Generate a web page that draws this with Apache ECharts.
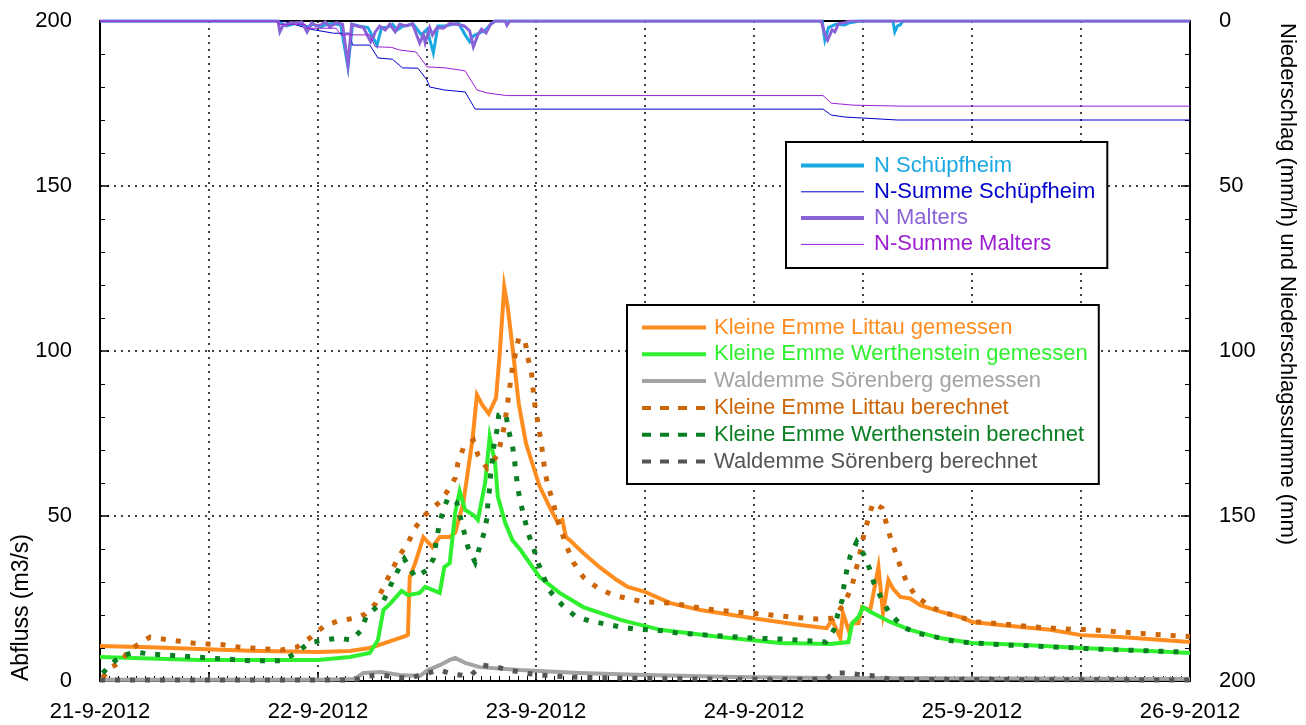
<!DOCTYPE html>
<html><head><meta charset="utf-8">
<script src="https://cdn.jsdelivr.net/npm/echarts@6/dist/echarts.min.js"></script>
<style>html,body{margin:0;padding:0;background:#fff}#c{width:1306px;height:725px}</style>
</head><body><div id="c"></div>
<script>
// x values are hours since 21-9-2012 00:00
const dayLabels = ['21-9-2012','22-9-2012','23-9-2012','24-9-2012','25-9-2012','26-9-2012'];
const leftTicks = [0, 50, 100, 150, 200];

// Abfluss (m3/s)
const littauGemessen = [[0,10.6],[5.5,10.2],[11,9.7],[16.5,9.2],[24,8.8],[27.5,9.1],[29.7,10],[31.9,12],[33.6,13.6],[33.9,14],[34.1,31.5],[34.7,35.7],[35.6,43.6],[36.6,40.6],[37.4,43.6],[38.5,43.6],[39.1,45],[40,54],[41,73],[41.5,86.7],[42.1,83.6],[42.8,81],[43.6,85.8],[44,99],[44.5,119.4],[44.9,113],[45.5,99],[46.1,84],[46.9,72],[47.7,65],[48.4,59],[49.5,52.7],[50.4,48],[50.9,48.8],[51.3,43.6],[51.7,42.7],[53.2,38.8],[55,34.5],[56.9,30.6],[58.1,28.5],[60,27],[62.8,23.6],[66.1,21.5],[71.9,19],[77.1,17],[80,16],[80.6,18.5],[81.5,13],[81.8,20.6],[82.4,15.5],[82.8,17.5],[83.5,17.5],[83.9,22.4],[84.8,21.5],[85.7,34.5],[86.2,20.6],[86.8,30.6],[87.3,28],[88.1,25.5],[89.2,25],[90.3,23],[92.5,21],[94.7,19.4],[96,17.9],[99.1,17],[104.6,15.5],[108,13.9],[112.3,13.3],[120,11.8]];
const werthensteinGemessen = [[0,7.3],[11,6.4],[24,6.4],[27.5,7.3],[29.7,8.5],[30.6,12.4],[31.2,21.5],[32,23.6],[33.2,27.3],[33.9,26],[35.2,26.7],[35.8,28.5],[37.4,26.7],[37.9,34.5],[38.5,35.7],[39.1,51],[39.6,57.5],[40.2,51.8],[41.1,50.3],[41.6,48.8],[42.4,60],[42.9,74],[43.5,66],[43.8,55.8],[44.6,48],[45.4,42.7],[46.3,39.7],[48.4,31.5],[50.6,26.7],[53.2,22.4],[57.3,18.5],[61.7,15.5],[68.3,13.3],[74.9,11.5],[80.4,11.2],[82.4,11.8],[82.8,17.5],[83.5,19.4],[84,22.4],[84.8,21],[87,17.9],[89.2,15.5],[92.5,13],[96,11.5],[101.3,11],[108,10],[115.6,9.1],[120,8.5]];
const soerenbergGemessen = [[0,0.4],[24,0.4],[28,0.6],[29,2.4],[30.9,2.7],[33,1.8],[35.2,1.5],[36.1,3.3],[37.4,4.8],[38.5,6.4],[39.1,7],[40.2,5.5],[41.8,4.2],[46.2,3.3],[50.6,2.7],[52.8,2.4],[60,1.8],[70,1.2],[80,0.9],[90,0.8],[120,0.6]];
const littauBerechnet = [[0.3,1],[1.1,4],[2.4,5.8],[3,8.8],[4.1,10.9],[5.5,13.3],[6.9,12.7],[8.6,12.1],[10.2,11.5],[11.9,11.2],[13.5,11],[15.2,10.3],[16.7,10],[18.4,9.7],[20,9.4],[21.7,10.3],[23.1,13],[24.7,16.7],[26.2,18.2],[27.9,19],[29.2,20.3],[30.3,23.3],[31.7,31.2],[32.3,34.5],[33,38.2],[33.9,41.8],[34.7,46.4],[35.5,49.4],[36.3,51.8],[37.4,54.2],[38.2,57.3],[39.1,61.5],[39.4,66],[40,70.6],[41.1,73],[41.6,68.5],[42.6,64.5],[43.8,68.5],[44.5,77],[45,86.7],[45.4,95],[45.8,100],[46.1,104],[46.8,103],[47.1,98],[47.5,93.6],[47.8,85],[48.1,80],[48.6,71.8],[49,63],[49.4,58.5],[49.9,54],[50.3,49.4],[51.4,40.6],[52.1,36],[53.2,31.5],[54.8,28.2],[56.5,26],[58.1,25],[59.8,24],[63,23.6],[66.3,22],[69.6,21],[72.7,20.3],[76,19.4],[79,18.8],[80.7,19],[81.8,23],[82.7,27.9],[83.5,36.7],[84.2,45.5],[85.1,54],[86.1,52.4],[87,43.6],[88.1,34.8],[88.8,30],[89.8,25.8],[91.5,22.4],[93.1,20.6],[94.7,19.4],[96.3,17.9],[99.5,17.3],[102.7,16.4],[106,15.8],[109.3,15.5],[112.6,14.8],[115.8,14.2],[119.1,13.6],[120,13.5]];
const werthensteinBerechnet = [[0.3,2.4],[1.1,4.8],[2.3,7.6],[3.9,8.8],[5.4,8.2],[7,7.9],[8.7,7.6],[10.3,7.3],[11.9,7],[13.5,6.7],[15.2,6.4],[16.7,6.1],[20,6.1],[21.6,8.5],[23,11.5],[24.6,12.4],[26.3,13],[27.7,12.4],[28.7,15.2],[29.3,19.4],[30.2,21.8],[31.2,24.2],[32,29],[32.7,33],[33.5,37],[34.7,31.5],[36,33.6],[36.7,37],[37.3,46.7],[37.7,51],[38.3,55.5],[39.3,54],[39.7,49.4],[40.1,45],[40.5,40.6],[41.3,36],[41.8,40.6],[42.3,45],[42.6,49.4],[42.7,54],[42.9,58.5],[43,62.7],[43.4,72],[43.7,76],[43.9,80.6],[44.7,81],[44.9,76.7],[45.4,71.5],[45.6,67.6],[45.8,63],[46,58.5],[46.3,54],[46.7,49.7],[47.1,45],[47.7,40.6],[48.2,36],[48.8,31.8],[49.5,27.3],[50.9,23],[52.3,19.7],[53.9,18.2],[55.6,17.3],[57.3,16.4],[58.7,15.8],[60.3,15.5],[62,15.2],[63.6,14.5],[65.3,14.2],[66.9,13.9],[68.6,13.6],[71.9,13],[75.2,12.7],[78.3,12.1],[79.9,11.8],[80.8,15.5],[81.2,20],[81.7,24.5],[81.9,28.8],[82.2,33.3],[82.6,37.9],[83.3,42.1],[84.1,38.2],[84.7,34.2],[85.2,29.7],[86,25.2],[86.9,20.6],[88.4,16.4],[89.9,14.5],[91.6,13.6],[93.3,12.4],[94.9,11.8],[96.6,11.5],[98.1,11.2],[99.7,10.9],[103,10.6],[104.6,10.3],[107.9,10],[109.3,9.7],[112.6,9.4],[115.9,9.1],[119.1,8.8]];
const soerenbergBerechnet = [[0,0.3],[28,0.3],[29.5,1.5],[31,1.8],[32.5,1.2],[34,0.8],[36,2.4],[37.4,3.3],[38.9,2],[40.7,1.5],[42.1,4.8],[43.7,4.2],[45.1,3.3],[46.8,2.4],[48.4,1.8],[52,1.2],[58,0.8],[70,0.5],[80,0.5],[80.7,2.4],[82.4,2.4],[84,1.8],[85.5,1.5],[87,0.5],[120,0.3]];

// Niederschlag (mm/h) und Niederschlagssumme (mm)
const nSchuepfheim = [[0,0],[19.5,0],[20,0.8],[20.5,1.5],[21.2,1],[21.6,0.5],[22.8,1.8],[23.5,1],[24.3,1.8],[25,1],[25.5,0.8],[26.5,1.2],[27.3,14],[27.8,1],[28.5,1.5],[29.5,2],[30.5,7.3],[31,2],[31.6,2],[32.2,1],[32.7,2.7],[33.4,1.5],[34.5,1],[35.4,4.2],[36,2.5],[36.7,9.7],[37.2,1.5],[38,1.5],[38.8,1],[39.5,0.8],[40.2,4.2],[40.7,6.3],[41.1,4.5],[41.8,3.6],[42.4,2.8],[43,1],[43.5,0],[79.5,0],[79.8,5.8],[80.2,2],[80.6,1.5],[81,1],[82,1.2],[82.5,0.5],[83.1,0.3],[83.5,0],[87.3,0],[87.5,3.3],[87.8,1.5],[88.1,1.2],[88.4,0],[120,0]];
const nSummeSchuepfheim = [[0,0],[20.2,0],[20.5,0.3],[23.2,2.5],[25.7,3.7],[27.5,3.7],[27.8,7.3],[29.7,7.3],[30.6,11.2],[32.2,11.6],[33.3,14.2],[35,14.3],[36,17.9],[36.3,20],[37.9,20.9],[40.2,21.5],[41.3,26.7],[79.6,26.7],[80.5,28.5],[82,29.1],[87.8,30],[120,30]];
const nMalters = [[0,0],[19.6,0],[19.8,3.3],[20.2,1],[20.5,1.3],[21,0.5],[21.6,0.7],[22.2,0.3],[22.8,3.3],[23.3,0.5],[23.8,1.5],[24.3,1.2],[24.8,0.3],[25.3,1.8],[26,0.5],[26.7,1],[27.3,13.3],[27.7,1],[28.3,1.5],[29,2],[29.8,6.3],[30.1,4.8],[30.3,3.3],[30.8,1.5],[31.4,2.7],[31.9,1],[32.5,3.3],[33,1],[33.7,1.5],[34.4,0.8],[35,5.2],[35.2,6.7],[35.6,4.2],[35.8,6.6],[36.3,2],[36.6,4.2],[37.1,2],[37.8,2.2],[38.5,0.8],[39.3,1],[40.1,1.5],[40.7,3],[41.1,7.8],[41.6,4.2],[42,2.5],[42.5,3.6],[43,1],[43.5,0],[44.6,0],[44.8,1.3],[45.1,0],[79.4,0],[79.8,4],[80.1,5.8],[80.6,2.7],[80.9,3.3],[81.3,0.8],[82,0.5],[82.5,0],[120,0]];
const nSummeMalters = [[0,0],[19.5,0],[19.7,1],[22.6,1],[22.8,2.2],[26,2.2],[26.5,4.2],[29.7,4.2],[30.3,7.8],[32.1,8],[33,8.8],[34.8,9.4],[36,13.9],[38,14.2],[40.2,15.1],[41.5,20.9],[42.6,21.8],[44.8,22.6],[79.6,22.6],[80.5,24.9],[82.9,25.5],[88.2,25.8],[120,25.8]];

const FONT = 'Liberation Sans, Arial, Helvetica, sans-serif';
const C = {
  nS: '#1AA8E2', nSS: '#0000CC', nM: '#8A62D8', nSM: '#9B1FD0',
  lg: '#FF8C1F', wg: '#2EF02E', sg: '#A3A3A3',
  lb: '#CC6608', wb: '#0A7E22', sb: '#555555'
};
const DOT = [5, 10];

function line(name, data, color, width, dashed, yAxisIndex) {
  return {
    name, type: 'line', data, yAxisIndex, symbol: 'none', showSymbol: false,
    animation: false, silent: true,
    lineStyle: { color, width, type: dashed ? DOT : 'solid', cap: 'butt', join: 'miter' },
    itemStyle: { color }
  };
}
const hideSym = { opacity: 0, color: 'rgba(0,0,0,0)', borderWidth: 0 };
function legItem(name, color, width, type) {
  return { name, textStyle: { color }, lineStyle: { width, type, color }, itemStyle: hideSym };
}

const chart = echarts.init(document.getElementById('c'), null, { renderer: 'canvas' });
const axisLineStyle = { color: '#000', width: 2 };
const gridLine = { color: '#000', type: [2, 5], width: 1.5 };

chart.setOption({
  backgroundColor: '#fff',
  animation: false,
  textStyle: { fontFamily: FONT },
  grid: { left: 100, right: 116, top: 21, bottom: 44, containLabel: false },
  xAxis: [{
    type: 'value', min: 0, max: 120, interval: 12, position: 'bottom',
    axisLine: { show: true, onZero: false, lineStyle: axisLineStyle },
    axisTick: { show: true, inside: true, length: 9, lineStyle: { color: '#000', width: 1.5 } },
    minorTick: { show: true, splitNumber: 12, length: 5, lineStyle: { color: '#000', width: 1 } },
    axisLabel: { fontSize: 22, color: '#000', margin: 20, fontFamily: FONT,
      showMinLabel: true, showMaxLabel: true,
      formatter: v => (v % 24 === 0 ? dayLabels[v / 24] : '') },
    splitLine: { show: true, lineStyle: gridLine }
  }, {
    type: 'value', min: 0, max: 120, position: 'top',
    axisLine: { show: true, onZero: false, lineStyle: axisLineStyle },
    axisTick: { show: false }, axisLabel: { show: false }, splitLine: { show: false }
  }],
  yAxis: [{
    type: 'value', min: leftTicks[0], max: leftTicks[leftTicks.length - 1], interval: 50, position: 'left',
    axisLine: { show: true, onZero: false, lineStyle: axisLineStyle },
    axisTick: { show: true, inside: true, length: 9, lineStyle: { color: '#000', width: 1.5 } },
    minorTick: { show: true, splitNumber: 5, length: 5, lineStyle: { color: '#000', width: 1 } },
    axisLabel: { fontSize: 22, color: '#000', margin: 28, fontFamily: FONT },
    splitLine: { show: true, lineStyle: gridLine }
  }, {
    type: 'value', min: 0, max: 200, interval: 50, position: 'right', inverse: true,
    axisLine: { show: true, onZero: false, lineStyle: axisLineStyle },
    axisTick: { show: true, inside: true, length: 9, lineStyle: { color: '#000', width: 1.5 } },
    minorTick: { show: true, splitNumber: 5, length: 5, lineStyle: { color: '#000', width: 1 } },
    axisLabel: { fontSize: 22, color: '#000', margin: 29, fontFamily: FONT },
    splitLine: { show: false }
  }],
  legend: [{
    orient: 'vertical', left: 786, top: 142, selectedMode: false,
    padding: [12.5, 12, 12.5, 13], itemWidth: 63, itemHeight: 14, itemGap: 4.3,
    backgroundColor: '#fff', borderColor: '#000', borderWidth: 2, borderRadius: 0,
    textStyle: { fontSize: 22, lineHeight: 21, fontFamily: FONT, padding: [0, 0, 0, 5] },
    data: [
      legItem('N Schüpfheim', C.nS, 4, 'solid'),
      legItem('N-Summe Schüpfheim', C.nSS, 1, 'solid'),
      legItem('N Malters', C.nM, 4, 'solid'),
      legItem('N-Summe Malters', C.nSM, 1, 'solid')
    ]
  }, {
    orient: 'vertical', left: 627, top: 305, selectedMode: false,
    padding: [11.5, 11, 11.5, 13], itemWidth: 64, itemHeight: 14, itemGap: 4.8,
    backgroundColor: '#fff', borderColor: '#000', borderWidth: 2, borderRadius: 0,
    textStyle: { fontSize: 22, lineHeight: 21, fontFamily: FONT, padding: [0, 0, 0, 3] },
    data: [
      legItem('Kleine Emme Littau gemessen', C.lg, 4, 'solid'),
      legItem('Kleine Emme Werthenstein gemessen', C.wg, 4, 'solid'),
      legItem('Waldemme Sörenberg gemessen', C.sg, 4, 'solid'),
      legItem('Kleine Emme Littau berechnet', C.lb, 4, [9, 9]),
      legItem('Kleine Emme Werthenstein berechnet', C.wb, 4, [9, 9]),
      legItem('Waldemme Sörenberg berechnet', C.sb, 4, [9, 9])
    ]
  }],
  graphic: [
    { type: 'text', x: 22, y: 681, rotation: Math.PI / 2, silent: true,
      style: { text: 'Abfluss (m3/s)', fontSize: 23, fontFamily: FONT, fill: '#000', align: 'left', verticalAlign: 'middle' } },
    { type: 'text', x: 1287, y: 23, rotation: -Math.PI / 2, silent: true,
      style: { text: 'Niederschlag (mm/h) und Niederschlagssumme (mm)', fontSize: 22, fontFamily: FONT, fill: '#000', align: 'left', verticalAlign: 'middle' } }
  ],
  series: [
    line('Kleine Emme Littau gemessen', littauGemessen, C.lg, 4, false, 0),
    line('Kleine Emme Werthenstein gemessen', werthensteinGemessen, C.wg, 4, false, 0),
    line('Waldemme Sörenberg gemessen', soerenbergGemessen, C.sg, 4, false, 0),
    line('Kleine Emme Littau berechnet', littauBerechnet, C.lb, 5, true, 0),
    line('Kleine Emme Werthenstein berechnet', werthensteinBerechnet, C.wb, 5, true, 0),
    line('Waldemme Sörenberg berechnet', soerenbergBerechnet, C.sb, 5, true, 0),
    line('N Schüpfheim', nSchuepfheim, C.nS, 3, false, 1),
    line('N-Summe Schüpfheim', nSummeSchuepfheim, C.nSS, 1, false, 1),
    line('N Malters', nMalters, C.nM, 3, false, 1),
    line('N-Summe Malters', nSummeMalters, C.nSM, 1, false, 1)
  ]
});
</script>
</body></html>
